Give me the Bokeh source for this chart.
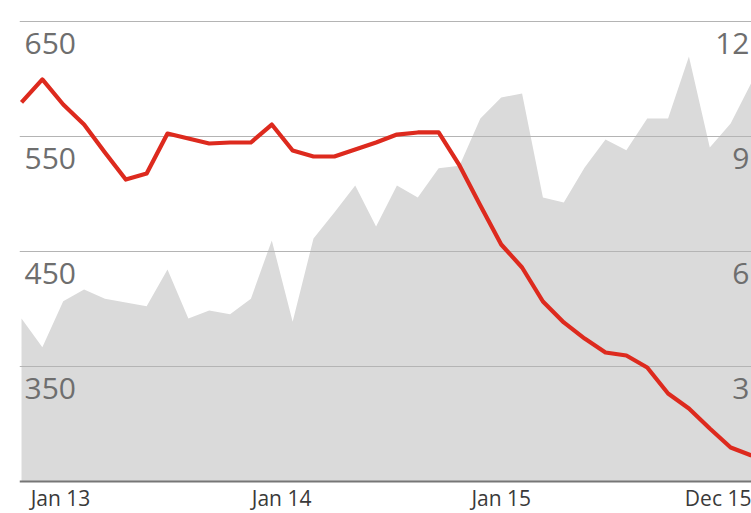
from bokeh.plotting import figure
from bokeh.models import Range1d, FixedTicker, ColumnDataSource, Span
from bokeh.core.properties import value
from bokeh.embed import file_html
from bokeh.resources import INLINE

# Monthly observations, Jan 2013 .. Dec 2015
months = list(range(36))

# Red series, left scale
price = [579.6, 599.6, 577.8, 560.4, 536.1, 512.6, 517.8, 552.6, 548.3, 543.9,
         544.8, 544.8, 560.4, 537.8, 532.6, 532.6, 538.7, 544.8, 551.7, 553.5,
         553.5, 524.8, 490.0, 456.1, 436.1, 406.5, 388.3, 374.3, 362.2, 359.6,
         349.1, 326.5, 313.5, 296.1, 279.6, 272.6]

# Grey area series, right scale
volume = [4.25, 3.50, 4.70, 5.01, 4.77, 4.67, 4.57, 5.53, 4.25, 4.46,
          4.36, 4.77, 6.29, 4.17, 6.34, 7.02, 7.72, 6.65, 7.72, 7.41,
          8.17, 8.24, 9.47, 10.02, 10.12, 7.41, 7.28, 8.19, 8.92, 8.64,
          9.47, 9.47, 11.09, 8.71, 9.34, 10.41]

left_ticks = [650, 550, 450, 350]
right_ticks = [12, 9, 6, 3]
x_labels = ["Jan 13", "Jan 14", "Jan 15", "Dec 15"]
x_label_pos = [1.87, 12.47, 23.0, 33.4]

FONT = "Open Sans"
LABEL_GREY = "#6e6e6e"

src = ColumnDataSource(dict(m=months, price=price, volume=volume, zero=[0] * len(months)))

x_start, x_end = -0.096, 35.0
p = figure(width=751, height=513, output_backend="svg", toolbar_location=None,
           x_range=Range1d(x_start, x_end), y_range=Range1d(222.17, 668.26),
           min_border_left=19, min_border_right=0, min_border_top=0, min_border_bottom=0,
           background_fill_color="white", border_fill_color="white", outline_line_color=None)
p.extra_y_ranges = {"right": Range1d(-0.835, 12.548)}

p.xaxis.visible = False
p.yaxis.visible = False
p.xgrid.visible = False
p.ygrid.ticker = FixedTicker(ticks=left_ticks)
p.ygrid.grid_line_color = "#b4b4b4"
p.ygrid.grid_line_width = 1.2

# Grey area on the right scale, beneath the grid
p.varea(x="m", y1="zero", y2="volume", source=src, y_range_name="right",
        fill_color="#dadada", level="image")

# Red line on the left scale
p.line(x="m", y="price", source=src, line_color="#dd2a1e", line_width=4.2,
       line_join="round")

# Baseline
p.add_layout(Span(location=250, dimension="width", line_color="#767676", line_width=2))

# Left scale labels, sitting just under their gridlines
p.text(x=[x_start] * len(left_ticks), y=left_ticks, text=[str(v) for v in left_ticks],
       x_offset=5, y_offset=22, text_font=value(FONT), text_font_size="30px",
       text_color=LABEL_GREY, text_align="left", text_baseline="alphabetic")

# Right scale labels
p.text(x=[x_end] * len(right_ticks), y=right_ticks, text=[str(v) for v in right_ticks],
       y_range_name="right", x_offset=-2, y_offset=22, text_font=value(FONT),
       text_font_size="30px", text_color=LABEL_GREY, text_align="right",
       text_baseline="alphabetic")

# Date labels under the baseline
p.text(x=x_label_pos, y=[250] * len(x_labels), text=x_labels, y_offset=17,
       text_font=value(FONT), text_font_size="21px", text_color="#3a3a3a",
       text_align="center", text_baseline="alphabetic")

open("out.html", "w").write(file_html(p, INLINE))
